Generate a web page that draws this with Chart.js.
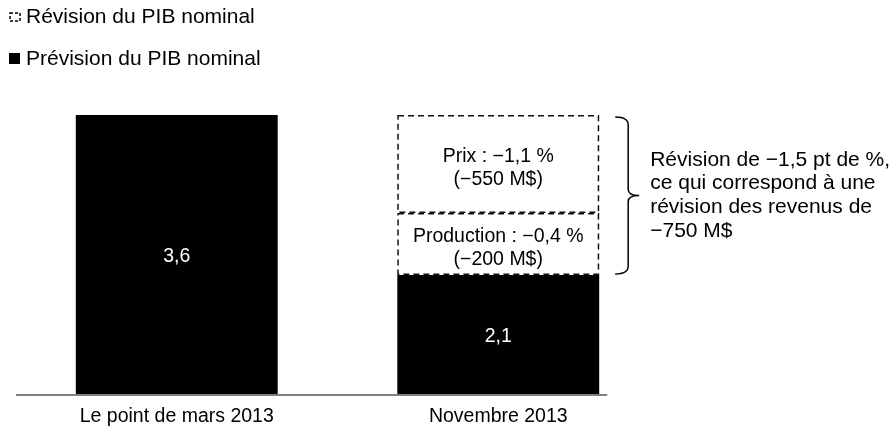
<!DOCTYPE html>
<html>
<head>
<meta charset="utf-8">
<script src="https://cdn.jsdelivr.net/npm/chart.js@4/dist/chart.umd.min.js"></script>
<style>
  html, body { margin: 0; padding: 0; background: #fff; }
  #wrap { width: 896px; height: 428px; }
</style>
</head>
<body>
<div id="wrap"><canvas id="c" width="896" height="428"></canvas></div>
<script>
// Categories and drawn bar heights (the drawing is not to scale
// with the printed labels, so heights and labels are kept apart).
const categories = ["Le point de mars 2013", "Novembre 2013"];
const previsionHeights = [3.6, 1.535];
const productionHeights = [null, 0.8];
const prixHeights = [null, 1.265];

// Printed values
const barLabels = ["3,6", "2,1"];
const productionText = ["Production : \u22120,4 %", "(\u2212200 M$)"];
const prixText = ["Prix : \u22121,1 %", "(\u2212550 M$)"];
const bracketText = [
  "R\u00e9vision de \u22121,5 pt de %,",
  "ce qui correspond \u00e0 une",
  "r\u00e9vision des revenus de",
  "\u2212750 M$",
];
const legendLabels = ["R\u00e9vision du PIB nominal", "Pr\u00e9vision du PIB nominal"];

const FONT = "'Liberation Sans', Arial, sans-serif";
const FSIZE = 19.5;
const BIG = 21;
const INK = "#000";

/** Dashed outlines, in-bar labels, bracket and its note. */
const annotate = {
  id: "annotate",
  afterDatasetsDraw(chart) {
    const ctx = chart.ctx;
    const y0 = chart.scales.y.getPixelForValue(0);
    const prev = chart.getDatasetMeta(0).data;
    const prod = chart.getDatasetMeta(1).data[1];
    const prix = chart.getDatasetMeta(2).data[1];

    ctx.save();
    // baseline
    const last = prev[prev.length - 1];
    ctx.strokeStyle = "#808080";
    ctx.lineWidth = 2;
    ctx.beginPath();
    ctx.moveTo(chart.chartArea.left, y0 + 1);
    ctx.lineTo(last.x + last.width / 2 + 8, y0 + 1);
    ctx.stroke();

    // dashed revision boxes
    ctx.strokeStyle = "#111";
    ctx.lineWidth = 1.5;
    ctx.setLineDash([6, 4]);
    [prod, prix].forEach((b) => {
      const l = b.x - b.width / 2, r = b.x + b.width / 2;
      ctx.strokeRect(l + 0.75, b.y + 0.75, r - l - 1.5, b.base - b.y - 1.5);
    });
    ctx.setLineDash([]);

    ctx.font = FSIZE + "px " + FONT;
    ctx.textAlign = "center";
    ctx.textBaseline = "middle";

    // values inside black bars
    ctx.fillStyle = "#fff";
    prev.forEach((b, i) => {
      ctx.fillText(barLabels[i], b.x, (b.y + b.base) / 2 + 2);
    });

    // revision labels
    ctx.fillStyle = INK;
    const two = (b, lines) => {
      const cy = (b.y + b.base) / 2 + 4;
      ctx.fillText(lines[0], b.x, cy - 11.5);
      ctx.fillText(lines[1], b.x, cy + 11.5);
    };
    two(prix, prixText);
    two(prod, productionText);

    // curly bracket
    const bx = prix.x + prix.width / 2 + 29;
    const top = prix.y + 2, bot = prod.base - 1, mid = (top + bot) / 2;
    ctx.strokeStyle = INK;
    ctx.lineWidth = 1.5;
    ctx.beginPath();
    ctx.moveTo(bx - 13, top);
    ctx.quadraticCurveTo(bx, top, bx, top + 8);
    ctx.lineTo(bx, mid - 6);
    ctx.quadraticCurveTo(bx, mid, bx + 11, mid);
    ctx.quadraticCurveTo(bx, mid, bx, mid + 6);
    ctx.lineTo(bx, bot - 8);
    ctx.quadraticCurveTo(bx, bot, bx - 13, bot);
    ctx.stroke();

    // note
    ctx.font = BIG + "px " + FONT;
    ctx.textAlign = "left";
    const lh = 23.7;
    bracketText.forEach((t, i) => {
      ctx.fillText(t, bx + 22, mid + (i - (bracketText.length - 1) / 2) * lh);
    });

    // legend
    ctx.fillText(legendLabels[0], 26, 17);
    ctx.fillText(legendLabels[1], 26, 59);
    ctx.setLineDash([3, 2]);
    ctx.lineWidth = 1.5;
    ctx.strokeRect(10, 13, 10, 8);
    ctx.setLineDash([]);
    ctx.fillRect(9, 53, 11, 11);
    ctx.restore();
  },
};

new Chart(document.getElementById("c"), {
  type: "bar",
  data: {
    labels: categories,
    datasets: [
      { label: legendLabels[1], data: previsionHeights, backgroundColor: "#000", stack: "s" },
      { label: "Production", data: productionHeights, backgroundColor: "#fff", stack: "s" },
      { label: "Prix", data: prixHeights, backgroundColor: "#fff", stack: "s" },
    ],
  },
  options: {
    responsive: false,
    animation: false,
    devicePixelRatio: 1,
    layout: { padding: { left: 16, right: 237, top: 115, bottom: 0 } },
    datasets: { bar: { categoryPercentage: 1, barPercentage: 0.628, borderWidth: 0 } },
    scales: {
      x: {
        stacked: true,
        grid: { display: false, drawTicks: false },
        border: { display: false },
        ticks: { color: INK, font: { family: FONT, size: FSIZE }, padding: 11 },
        afterFit: (scale) => { scale.height = 34; },
      },
      y: { stacked: true, display: false, min: 0, max: 3.6 },
    },
    plugins: { legend: { display: false }, tooltip: { enabled: false } },
  },
  plugins: [annotate],
});
</script>
</body>
</html>
